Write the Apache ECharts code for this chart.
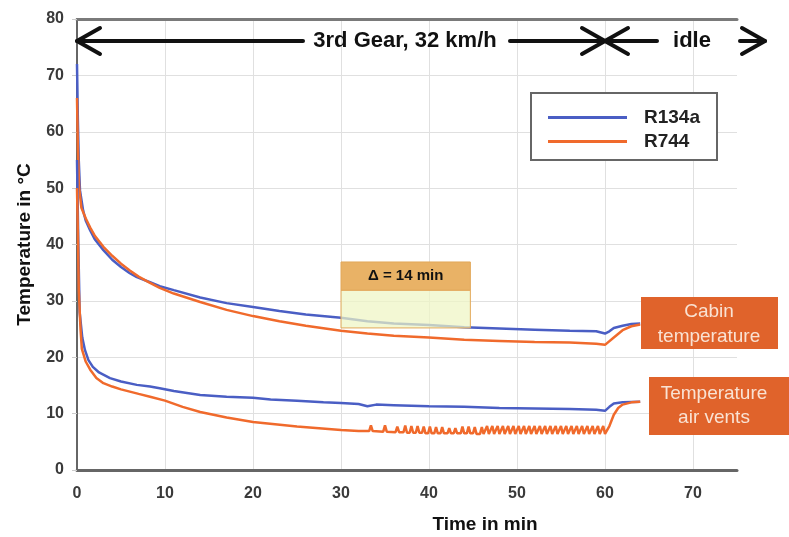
<!DOCTYPE html>
<html><head><meta charset="utf-8">
<script src="https://cdn.jsdelivr.net/npm/echarts@6/dist/echarts.min.js"></script>
<style>html,body{margin:0;padding:0;background:#fff}#c{width:789px;height:537px}</style>
</head><body><div id="c"></div>
<script>
// time in min, temperature in °C
const cabinR134a = [[0,72],[0.1,62],[0.2,55],[0.34,49.6],[0.7,46],[1,44.2],[1.5,42.5],[2,41],[3,39],[4,37.3],[5,36],[6,34.9],[6.8,34.2],[8.3,33.3],[9.4,32.6],[11,31.9],[14,30.6],[17,29.6],[20,28.9],[23,28.2],[26,27.6],[30,27],[33,26.4],[36,26],[40,25.7],[44,25.3],[48,25.1],[52,24.9],[56,24.7],[59,24.6],[60,24.2],[60.5,24.6],[61,25.2],[62,25.6],[63,25.9],[64,26]];
const cabinR744 = [[0,66],[0.1,57],[0.25,50],[0.5,46.5],[1,44.6],[1.5,43],[2,41.6],[3,39.6],[4,38],[5,36.6],[6,35.4],[7,34.3],[8.3,33.2],[9.4,32.3],[11,31.3],[14,29.8],[17,28.4],[20,27.3],[23,26.4],[26,25.6],[30,24.7],[33,24.2],[36,23.8],[40,23.5],[44,23.1],[48,22.9],[52,22.7],[56,22.6],[59,22.4],[60,22.2],[61,23.5],[62,24.8],[63,25.5],[64,25.8]];
const ventR134a = [[0,55],[0.15,40],[0.3,28],[0.6,23.5],[0.9,21.3],[1.3,19.5],[1.8,18.3],[2.5,17.3],[3.75,16.3],[5,15.7],[6.8,15.1],[8.3,14.8],[9.4,14.5],[11,14],[14,13.3],[17,13],[20,12.8],[22,12.5],[25,12.3],[28,12],[30,11.9],[32,11.7],[33,11.3],[34,11.6],[36,11.5],[40,11.3],[44,11.2],[48,11],[52,10.9],[56,10.8],[59,10.7],[60,10.5],[60.5,11.2],[61,11.8],[62,12],[64,12.1]];
const ventR744 = [[0,50],[0.1,42],[0.2,32],[0.4,25],[0.55,21.5],[1,19.2],[1.5,17.8],[2.2,16.3],[3,15.4],[4,14.8],[5,14.3],[7,13.5],[8.3,13],[10,12.3],[12,11.2],[14,10.3],[17,9.3],[20,8.5],[25,7.7],[30,7.1],[32,6.9],
[33.2,6.9],[33.4,7.9],[33.6,6.9],[34.8,6.8],[35.0,7.9],[35.2,6.8],[36.2,6.7],[36.4,7.7],[36.6,6.7],[37.1,6.7],[37.3,7.9],[37.5,6.6],[37.8,6.6],[38.0,7.8],[38.2,6.6],[38.5,6.6],[38.7,7.8],[38.9,6.6],[39.2,6.6],[39.4,7.7],[39.6,6.5],[39.9,6.5],[40.1,7.7],[40.3,6.5],[40.6,6.5],[40.8,7.6],[41.0,6.5],[41.3,6.5],[41.5,7.6],[41.7,6.5],[42.1,6.5],[42.3,7.4],[42.5,6.5],[42.8,6.5],[43.0,7.4],[43.2,6.5],[43.6,6.5],[43.8,7.7],[44.0,6.5],[44.3,6.5],[44.5,7.7],[44.7,6.5],[45.0,6.5],[45.2,7.6],[45.4,6.4],[45.8,6.4],[46.0,7.6],[46.2,6.4],[46.4,6.4],[46.6,7.8],[46.8,6.4],[47.0,6.4],[47.2,7.8],[47.4,6.4],[47.6,6.4],[47.8,7.8],[48.0,6.4],[48.2,6.4],[48.4,7.8],[48.6,6.4],[48.8,6.4],[49.0,7.8],[49.2,6.4],[49.4,6.4],[49.6,7.8],[49.8,6.4],[50.0,6.4],[50.2,7.8],[50.4,6.4],[50.6,6.4],[50.8,7.8],[51.0,6.4],[51.2,6.4],[51.4,7.8],[51.6,6.4],[51.8,6.4],[52.0,7.8],[52.2,6.4],[52.4,6.4],[52.6,7.8],[52.8,6.4],[53.0,6.4],[53.2,7.8],[53.4,6.4],[53.6,6.4],[53.8,7.8],[54.0,6.4],[54.2,6.4],[54.4,7.8],[54.6,6.4],[54.8,6.4],[55.0,7.8],[55.2,6.4],[55.4,6.4],[55.6,7.8],[55.8,6.4],[56.0,6.4],[56.2,7.8],[56.4,6.4],[56.6,6.4],[56.8,7.8],[57.0,6.4],[57.2,6.4],[57.4,7.8],[57.6,6.4],[57.8,6.4],[58.0,7.8],[58.2,6.4],[58.4,6.4],[58.6,7.8],[58.8,6.4],[59.0,6.4],[59.2,7.8],[59.4,6.4],[59.6,6.4],[59.8,7.8],[60.0,6.4],
[60.5,7.8],[61,9.8],[61.5,11],[62,11.6],[63,12],[64,12.1]];
const xTicks = [0,10,20,30,40,50,60,70];
const seriesNames = ['R134a','R744'];

const BLUE = '#4a5ec4', ORANGE = '#f06a2c', BOX = '#e0632b';
const FONT = 'Liberation Sans, Arial, sans-serif';
const chart = echarts.init(document.getElementById('c'));
const lineSeries = (name, data, color) => ({
  name, type:'line', data, xAxisIndex:0, yAxisIndex:0, symbol:'none',
  lineStyle:{color, width:2.5}, itemStyle:{color}, z:3
});
chart.setOption({
  animation:false,
  backgroundColor:'#fff',
  grid:{left:77,right:52,top:19,bottom:67},
  legend:{
    data:seriesNames, orient:'vertical', left:548, top:108, padding:0, z:6,
    icon:'rect', itemWidth:79, itemHeight:3, itemGap:5,
    textStyle:{fontFamily:FONT, fontWeight:'bold', fontSize:19, lineHeight:19, color:'#222', padding:[0,0,0,12]}
  },
  xAxis:[{
    type:'value', min:0, max:75, interval:10,
    axisLine:{lineStyle:{color:'#666', width:3}},
    axisTick:{show:false},
    axisLabel:{showMaxLabel:false, margin:16, color:'#3a3a3a', fontWeight:'bold', fontSize:16, fontFamily:FONT,
      formatter:v => xTicks.includes(v) ? String(v) : ''},
    splitLine:{show:true, showMaxLine:false, lineStyle:{color:'#e0e0e0'}}
  },{
    type:'value', position:'top', min:0, max:75,
    axisLine:{show:true, lineStyle:{color:'#7a7a7a', width:3}},
    axisTick:{show:false}, axisLabel:{show:false}, splitLine:{show:false}
  }],
  yAxis:{
    type:'value', min:0, max:80, interval:10,
    axisLine:{show:true, lineStyle:{color:'#666', width:2}},
    axisTick:{show:true, length:5, lineStyle:{color:'#ccc'}},
    axisLabel:{margin:13, color:'#3a3a3a', fontWeight:'bold', fontSize:16, fontFamily:FONT},
    splitLine:{lineStyle:{color:'#e0e0e0'}},
    name:'Temperature in °C', nameLocation:'middle', nameGap:43,
    nameTextStyle:{fontFamily:FONT, fontWeight:'bold', fontSize:19, color:'#111'}
  },
  series:[
    lineSeries('R134a', cabinR134a, BLUE),
    lineSeries('R744', cabinR744, ORANGE),
    lineSeries('R134a', ventR134a, BLUE),
    lineSeries('R744', ventR744, ORANGE)
  ]
});

const p = (x,y) => chart.convertToPixel({xAxisIndex:0, yAxisIndex:0}, [x,y]);
const arrowY = 41;
const x0 = p(0,0)[0], x60 = p(60,0)[0];
const ls = {stroke:'#111', lineWidth:4, lineCap:'round', lineJoin:'round'};
const chevron = (tx, dir) => ({type:'polyline', shape:{points:[[tx - dir*23, arrowY-13],[tx, arrowY],[tx - dir*23, arrowY+13]]}, style:ls, z:20});
const b1 = p(30,36.9), b2 = p(44.7,31.9), b3 = p(44.7,25.2);
chart.setOption({graphic:[
  // phase arrows
  {type:'line', shape:{x1:x0, y1:arrowY, x2:303, y2:arrowY}, style:ls, z:20},
  chevron(x0, -1),
  {type:'text', x:405, y:arrowY, style:{text:'3rd Gear, 32 km/h', fill:'#111', font:'bold 22px '+FONT, align:'center', verticalAlign:'middle'}, z:20},
  {type:'line', shape:{x1:510, y1:arrowY, x2:x60, y2:arrowY}, style:ls, z:20},
  chevron(x60, 1),
  {type:'line', shape:{x1:x60, y1:arrowY, x2:657, y2:arrowY}, style:ls, z:20},
  chevron(x60, -1),
  {type:'text', x:692, y:arrowY, style:{text:'idle', fill:'#111', font:'bold 22px '+FONT, align:'center', verticalAlign:'middle'}, z:20},
  {type:'line', shape:{x1:740, y1:arrowY, x2:765, y2:arrowY}, style:ls, z:20},
  chevron(765, 1),
  // legend frame
  {type:'rect', shape:{x:531, y:93, width:186, height:67}, style:{fill:'#fff', stroke:'#666', lineWidth:2}, z:5},
  // delta box
  {type:'rect', shape:{x:b1[0], y:b2[1], width:b3[0]-b1[0], height:b3[1]-b2[1]}, style:{fill:'rgba(238,245,196,0.72)', stroke:'#e2a85a', lineWidth:1}, z:10},
  {type:'rect', shape:{x:b1[0], y:b1[1], width:b2[0]-b1[0], height:b2[1]-b1[1]}, style:{fill:'#e9b266', stroke:'#e2a85a', lineWidth:1}, z:10},
  {type:'text', x:(b1[0]+b2[0])/2, y:(b1[1]+b2[1])/2, style:{text:'Δ = 14 min', fill:'#111', font:'bold 15px '+FONT, align:'center', verticalAlign:'middle'}, z:11},
  // series labels
  {type:'rect', shape:{x:641, y:297, width:137, height:52}, style:{fill:BOX}, z:12},
  {type:'text', x:709, y:324, style:{text:'Cabin\ntemperature', fill:'#f9e2d3', font:'19px '+FONT, lineHeight:25, align:'center', verticalAlign:'middle'}, z:13},
  {type:'rect', shape:{x:649, y:377, width:140, height:58}, style:{fill:BOX}, z:12},
  {type:'text', x:714, y:406, style:{text:'Temperature\nair vents', fill:'#f9e2d3', font:'19px '+FONT, lineHeight:24, align:'center', verticalAlign:'middle'}, z:13},
  // x axis title
  {type:'text', x:485, y:525, style:{text:'Time in min', fill:'#111', font:'bold 19px '+FONT, align:'center', verticalAlign:'middle'}, z:13}
]});
</script></body></html>
